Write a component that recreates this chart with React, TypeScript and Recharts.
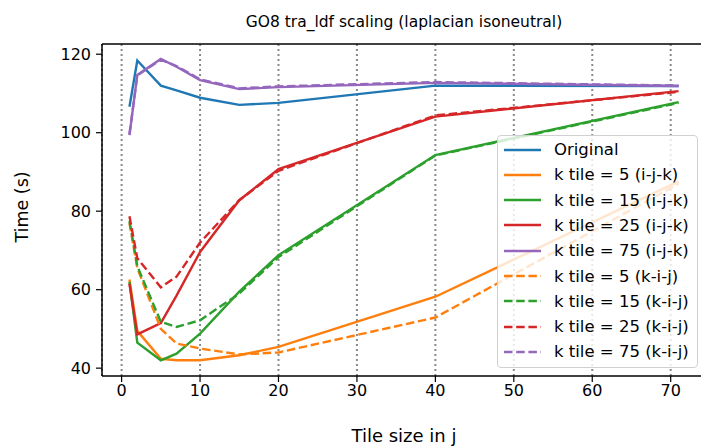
import React from 'react';
import { LineChart, Line, XAxis, YAxis, CartesianGrid, ReferenceLine } from 'recharts';

const TILE_J = [1, 2, 5, 7, 10, 15, 20, 40, 71];
const X_TICKS = [0, 10, 20, 30, 40, 50, 60, 70];
const Y_TICKS = [40, 60, 80, 100, 120];

const ORIGINAL = [106.6, 118.4, 112.0, 110.8, 108.9, 107.1, 107.6, 112.0, 111.9];
const K5_IJK = [62.6, 49.5, 42.4, 42.0, 42.0, 43.3, 45.4, 58.2, 87.6];
const K15_IJK = [62.0, 46.5, 42.0, 43.7, 48.8, 59.5, 68.8, 94.3, 107.8];
const K25_IJK = [61.5, 48.6, 51.5, 58.5, 69.6, 82.8, 90.7, 104.1, 110.6];
const K75_IJK = [99.4, 114.7, 118.8, 116.8, 113.4, 111.1, 111.6, 112.7, 111.9];
const K5_KIJ = [77.0, 65.5, 50.0, 46.3, 45.0, 43.5, 44.0, 52.9, 87.0];
const K15_KIJ = [77.5, 66.0, 51.8, 50.5, 52.2, 59.0, 68.3, 94.2, 107.6];
const K25_KIJ = [78.7, 68.0, 60.6, 63.3, 72.0, 82.8, 90.3, 104.4, 110.4];
const K75_KIJ = [99.6, 114.6, 118.6, 117.0, 113.6, 111.3, 111.8, 112.9, 112.0];

const SERIES = [
  { key: 'orig', name: 'Original', values: ORIGINAL, color: '#1f77b4', dashed: false },
  { key: 'k5ijk', name: 'k tile = 5 (i-j-k)', values: K5_IJK, color: '#ff7f0e', dashed: false },
  { key: 'k15ijk', name: 'k tile = 15 (i-j-k)', values: K15_IJK, color: '#2ca02c', dashed: false },
  { key: 'k25ijk', name: 'k tile = 25 (i-j-k)', values: K25_IJK, color: '#d62728', dashed: false },
  { key: 'k75ijk', name: 'k tile = 75 (i-j-k)', values: K75_IJK, color: '#9467bd', dashed: false },
  { key: 'k5kij', name: 'k tile = 5 (k-i-j)', values: K5_KIJ, color: '#ff7f0e', dashed: true },
  { key: 'k15kij', name: 'k tile = 15 (k-i-j)', values: K15_KIJ, color: '#2ca02c', dashed: true },
  { key: 'k25kij', name: 'k tile = 25 (k-i-j)', values: K25_KIJ, color: '#d62728', dashed: true },
  { key: 'k75kij', name: 'k tile = 75 (k-i-j)', values: K75_KIJ, color: '#9467bd', dashed: true },
];

const data = TILE_J.map((x, i) => {
  const row: Record<string, number> = { x };
  SERIES.forEach((s) => {
    row[s.key] = s.values[i];
  });
  return row;
});

const FONT = '"DejaVu Sans", sans-serif';
const DASH = '8.5 3.7';

export default function App() {
  return (
    <div
      style={{
        position: 'absolute',
        left: 0,
        top: 0,
        width: 701,
        height: 447,
        overflow: 'hidden',
        background: '#fff',
        fontFamily: FONT,
      }}
    >
      <LineChart
        width={712}
        height={447}
        data={data}
        margin={{ top: 44, right: 6, left: 42, bottom: 0 }}
      >
        <CartesianGrid
          horizontal={false}
          vertical={true}
          stroke="#8a8a8a"
          strokeWidth={2}
          strokeDasharray="2 3"
        />
        <XAxis
          dataKey="x"
          type="number"
          domain={[-2.5, 74.5]}
          ticks={X_TICKS}
          allowDataOverflow
          height={71}
          tickSize={6}
          tickMargin={3}
          axisLine={{ stroke: '#000', strokeWidth: 1.5 }}
          tickLine={{ stroke: '#000', strokeWidth: 1.2 }}
          tick={{ fill: '#000', fontSize: 16, fontFamily: FONT }}
        />
        <YAxis
          type="number"
          domain={[38, 122.6]}
          ticks={Y_TICKS}
          allowDataOverflow
          width={60}
          tickSize={6}
          tickMargin={5}
          axisLine={{ stroke: '#000', strokeWidth: 1.5 }}
          tickLine={{ stroke: '#000', strokeWidth: 1.2 }}
          tick={{ fill: '#000', fontSize: 16, fontFamily: FONT }}
        />
        <ReferenceLine y={122.6} stroke="#000" strokeWidth={1.5} />
        {SERIES.map((s) => (
          <Line
            key={s.key}
            type="linear"
            dataKey={s.key}
            name={s.name}
            stroke={s.color}
            strokeWidth={2.4}
            strokeDasharray={s.dashed ? DASH : undefined}
            dot={false}
            activeDot={false}
            isAnimationActive={false}
          />
        ))}
      </LineChart>

      <div
        style={{
          position: 'absolute',
          left: 0,
          width: 808,
          top: 11,
          textAlign: 'center',
          fontSize: 15.5,
          lineHeight: '22px',
          color: '#000',
        }}
      >
        GO8 tra_ldf scaling (laplacian isoneutral)
      </div>
      <div
        style={{
          position: 'absolute',
          left: 0,
          width: 808,
          top: 425,
          textAlign: 'center',
          fontSize: 18,
          lineHeight: '22px',
          color: '#000',
        }}
      >
        Tile size in j
      </div>
      <div
        style={{
          position: 'absolute',
          left: 22,
          top: 207,
          transform: 'translate(-50%, -50%) rotate(-90deg)',
          fontSize: 17.5,
          lineHeight: '20px',
          whiteSpace: 'nowrap',
          color: '#000',
        }}
      >
        Time (s)
      </div>

      <div
        style={{
          position: 'absolute',
          left: 497,
          top: 135,
          width: 201,
          height: 233,
          boxSizing: 'border-box',
          background: 'rgba(255,255,255,0.8)',
          border: '1px solid #d0d0d0',
          borderRadius: 4,
        }}
      >
        {SERIES.map((s, i) => (
          <div
            key={s.key}
            style={{
              position: 'absolute',
              left: 6,
              top: 1 + i * 25.3,
              height: 25,
              display: 'flex',
              alignItems: 'center',
              whiteSpace: 'nowrap',
            }}
          >
            <svg width={37} height={10} style={{ display: 'block' }}>
              <line
                x1={0}
                y1={5}
                x2={37}
                y2={5}
                stroke={s.color}
                strokeWidth={2.4}
                strokeDasharray={s.dashed ? DASH : undefined}
              />
            </svg>
            <span style={{ marginLeft: 13, fontSize: 16.5, color: '#000' }}>{s.name}</span>
          </div>
        ))}
      </div>
    </div>
  );
}
